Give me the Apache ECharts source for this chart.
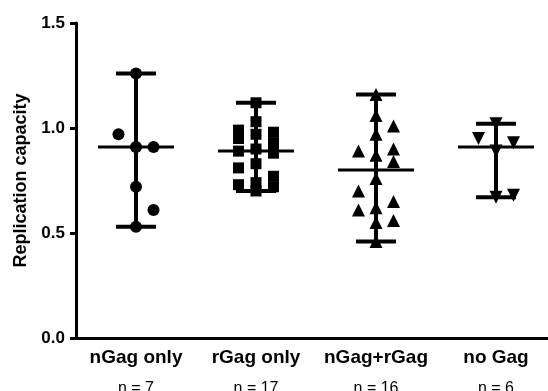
<!DOCTYPE html>
<html>
<head>
<meta charset="utf-8">
<script src="https://cdn.jsdelivr.net/npm/echarts@6/dist/echarts.min.js"></script>
<style>
  html, body { margin: 0; padding: 0; background: #fff; }
  #chart { width: 548px; height: 391px; }
</style>
</head>
<body>
<div id="chart"></div>
<script>
const categories = ['nGag only', 'rGag only', 'nGag+rGag', 'no Gag']

// replication capacity per virus
const nGagOnly = [1.26, 0.97, 0.91, 0.91, 0.72, 0.61, 0.53]
const rGagOnly = [1.12, 1.03, 0.99, 0.98, 0.97, 0.95, 0.93, 0.90, 0.89, 0.88, 0.83, 0.81, 0.77, 0.74, 0.73, 0.72, 0.70]
const nGagRGag = [1.16, 1.06, 1.01, 0.97, 0.90, 0.89, 0.87, 0.84, 0.76, 0.70, 0.65, 0.62, 0.61, 0.56, 0.55, 0.46]
const noGag = [1.02, 0.95, 0.93, 0.89, 0.68, 0.67]

const yMin = 0
const yMax = 1.5
const yStep = 0.5

const groups = [nGagOnly, rGagOnly, nGagRGag, noGag]
const symbols = ['circle', 'rect', 'triangle', 'triangle']
const symbolRotate = [0, 0, 0, 180]
const symbolSize = [12, 11, 13, 13]
const laneWidth = 0.146

function median(arr) {
  const s = arr.slice().sort((a, b) => a - b)
  const m = Math.floor(s.length / 2)
  return s.length % 2 ? s[m] : (s[m - 1] + s[m]) / 2
}

// put points of one column into three lanes so close values don't sit on top of each other
function lanes(values, minDist) {
  const order = values.map((v, i) => i).sort((a, b) => values[a] - values[b])
  const placed = { '0': [], '1': [], '-1': [] }
  const lane = new Array(values.length)
  order.forEach(i => {
    const v = values[i]
    let best = 0
    let bestGap = -1
    for (const s of [0, 1, -1]) {
      const gap = Math.min(Infinity, ...placed[s].map(p => Math.abs(p - v)))
      if (gap >= minDist) { best = s; break }
      if (gap > bestGap) { bestGap = gap; best = s }
    }
    placed[best].push(v)
    lane[i] = best
  })
  return lane
}

const font = 'Liberation Sans, Arial, sans-serif'

const scatterSeries = groups.map((vals, g) => {
  const lane = lanes(vals, 0.085)
  return {
    type: 'scatter',
    xAxisIndex: 1,
    symbol: symbols[g],
    symbolRotate: symbolRotate[g],
    symbolSize: symbolSize[g],
    itemStyle: { color: '#000', opacity: 1 },
    data: vals.map((v, i) => [g + 0.5 + lane[i] * laneWidth, v]),
    z: 3
  }
})

const rangeSeries = {
  type: 'custom',
  xAxisIndex: 1,
  data: groups.map((vals, g) => [g + 0.5, Math.min(...vals), median(vals), Math.max(...vals)]),
  renderItem(params, api) {
    const x = api.value(0)
    const lo = api.coord([x, api.value(1)])
    const mid = api.coord([x, api.value(2)])
    const hi = api.coord([x, api.value(3)])
    const bar = { stroke: '#000', lineWidth: 4 }
    const med = { stroke: '#000', lineWidth: 3 }
    return {
      type: 'group',
      children: [
        { type: 'line', shape: { x1: hi[0], y1: hi[1], x2: lo[0], y2: lo[1] }, style: bar },
        { type: 'line', shape: { x1: hi[0] - 20, y1: hi[1], x2: hi[0] + 20, y2: hi[1] }, style: bar },
        { type: 'line', shape: { x1: lo[0] - 20, y1: lo[1], x2: lo[0] + 20, y2: lo[1] }, style: bar },
        { type: 'line', shape: { x1: mid[0] - 38, y1: mid[1], x2: mid[0] + 38, y2: mid[1] }, style: med }
      ]
    }
  },
  z: 2
}

const chart = echarts.init(document.getElementById('chart'))
chart.setOption({
  animation: false,
  backgroundColor: '#fff',
  grid: { left: 76, right: -8, top: 23, bottom: 53, outerBoundsMode: 'none', containLabel: false },
  xAxis: [
    {
      type: 'category',
      data: categories,
      axisLine: { lineStyle: { color: '#000', width: 3 } },
      axisTick: { alignWithLabel: true, length: 7, lineStyle: { color: '#000', width: 3 } },
      axisLabel: {
        margin: 9,
        interval: 0,
        formatter: (v, i) => '{a|' + v + '}\n{b|n = ' + groups[i].length + '}',
        rich: {
          a: { fontFamily: font, fontSize: 19, fontWeight: 'bold', color: '#000', lineHeight: 22 },
          b: { fontFamily: font, fontSize: 16, color: '#000', lineHeight: 40 }
        }
      }
    },
    { type: 'value', min: 0, max: 4, show: false }
  ],
  yAxis: {
    type: 'value',
    min: yMin,
    max: yMax,
    interval: yStep,
    name: 'Replication capacity',
    nameLocation: 'middle',
    nameGap: 44,
    nameTextStyle: { fontFamily: font, fontSize: 18, fontWeight: 'bold', color: '#000' },
    axisLine: { show: true, lineStyle: { color: '#000', width: 3 } },
    axisTick: { show: true, length: 6, lineStyle: { color: '#000', width: 3 } },
    axisLabel: {
      margin: 11,
      fontFamily: font,
      fontSize: 17,
      fontWeight: 'bold',
      color: '#000',
      formatter: v => v.toFixed(1)
    },
    splitLine: { show: false }
  },
  series: [rangeSeries, ...scatterSeries]
})
</script>
</body>
</html>
